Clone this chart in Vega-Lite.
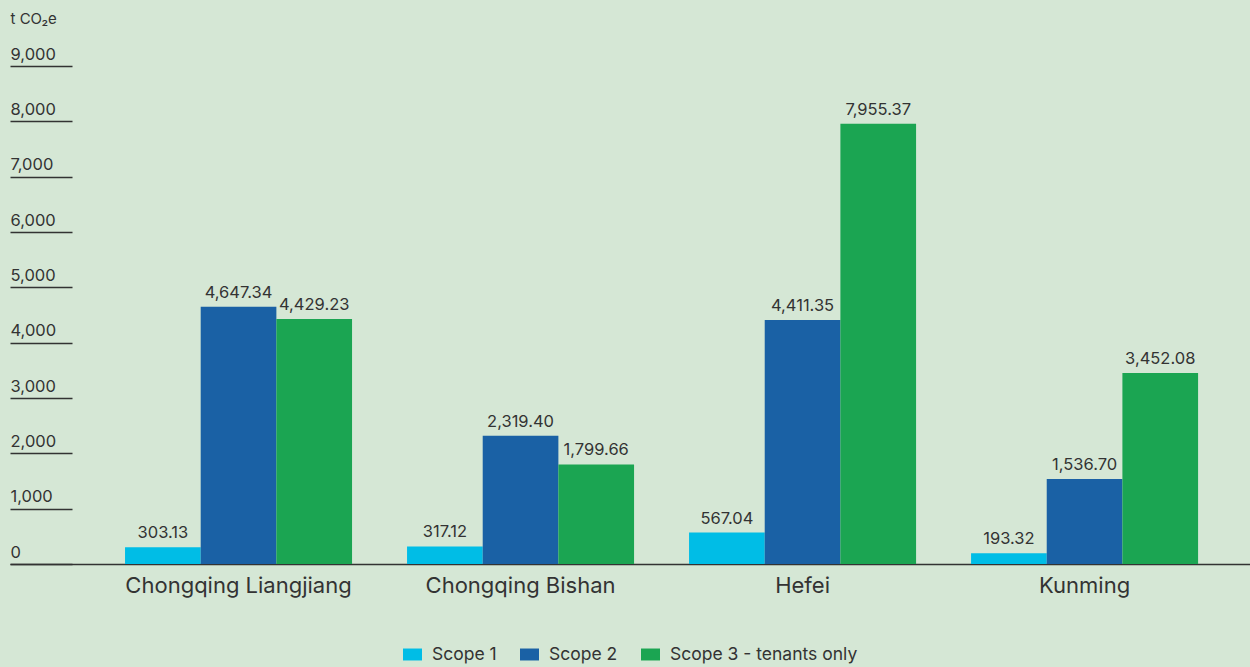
{
  "$schema": "https://vega.github.io/schema/vega-lite/v6.json",
  "width": 1240,
  "height": 498,
  "autosize": {"type": "none"},
  "padding": {"left": 10, "top": 66, "right": 0, "bottom": 103},
  "background": "#d5e7d5",
  "config": {"view": {"stroke": null}, "font": "Inter"},
  "data": {
    "values": [
      {"site": "Chongqing Liangjiang", "scope": "Scope 1", "value": 303.13},
      {"site": "Chongqing Liangjiang", "scope": "Scope 2", "value": 4647.34},
      {"site": "Chongqing Liangjiang", "scope": "Scope 3 - tenants only", "value": 4429.23},
      {"site": "Chongqing Bishan", "scope": "Scope 1", "value": 317.12},
      {"site": "Chongqing Bishan", "scope": "Scope 2", "value": 2319.40},
      {"site": "Chongqing Bishan", "scope": "Scope 3 - tenants only", "value": 1799.66},
      {"site": "Hefei", "scope": "Scope 1", "value": 567.04},
      {"site": "Hefei", "scope": "Scope 2", "value": 4411.35},
      {"site": "Hefei", "scope": "Scope 3 - tenants only", "value": 7955.37},
      {"site": "Kunming", "scope": "Scope 1", "value": 193.32},
      {"site": "Kunming", "scope": "Scope 2", "value": 1536.70},
      {"site": "Kunming", "scope": "Scope 3 - tenants only", "value": 3452.08}
    ]
  },
  "encoding": {
    "x": {
      "field": "site",
      "type": "nominal",
      "sort": ["Chongqing Liangjiang", "Chongqing Bishan", "Hefei", "Kunming"],
      "scale": {"paddingInner": 0.195, "paddingOuter": 0.296, "align": 0.689},
      "axis": {
        "title": null,
        "labelAngle": 0,
        "labelFontSize": 22,
        "labelColor": "#333333",
        "labelPadding": 11,
        "labelBaseline": "top",
        "labelLimit": 0,
        "ticks": false,
        "domain": true,
        "domainColor": "#333333",
        "domainWidth": 1.5
      }
    },
    "xOffset": {
      "field": "scope",
      "type": "nominal",
      "sort": ["Scope 1", "Scope 2", "Scope 3 - tenants only"],
      "scale": {"paddingInner": 0, "paddingOuter": 0}
    },
    "y": {
      "field": "value",
      "type": "quantitative",
      "scale": {"domain": [0, 9000], "nice": false},
      "axis": {
        "title": "t CO₂e",
        "titleAngle": 0,
        "titleX": 0,
        "titleY": -43,
        "titleAlign": "left",
        "titleBaseline": "alphabetic",
        "titleFontSize": 15,
        "titleFontWeight": "normal",
        "titleColor": "#333333",
        "values": [0, 1000, 2000, 3000, 4000, 5000, 6000, 7000, 8000, 9000],
        "format": ",.0f",
        "domain": false,
        "grid": false,
        "ticks": true,
        "tickSize": -62,
        "tickColor": "#333333",
        "tickWidth": 1.3,
        "labelAlign": "left",
        "labelBaseline": "alphabetic",
        "labelOffset": -7,
        "labelPadding": 62,
        "labelFontSize": 16.5,
        "labelColor": "#333333"
      }
    }
  },
  "layer": [
    {
      "mark": {"type": "bar"},
      "encoding": {
        "color": {
          "field": "scope",
          "type": "nominal",
          "sort": ["Scope 1", "Scope 2", "Scope 3 - tenants only"],
          "scale": {
            "domain": ["Scope 1", "Scope 2", "Scope 3 - tenants only"],
            "range": ["#00bde6", "#1a61a5", "#1ba552"]
          },
          "legend": {
            "title": null,
            "orient": "none",
            "legendX": 393,
            "legendY": 579,
            "direction": "horizontal",
            "symbolType": "M-1,-0.63H1V0.63H-1Z",
            "symbolSize": 361,
            "symbolStrokeWidth": 0,
            "symbolOpacity": 1,
            "labelFontSize": 17.5,
            "labelLimit": 0,
            "labelColor": "#333333",
            "labelOffset": 10,
            "columnPadding": 23
          }
        }
      }
    },
    {
      "mark": {"type": "text", "dy": -9, "baseline": "alphabetic", "fontSize": 16.5, "color": "#333333"},
      "encoding": {
        "text": {"field": "value", "type": "quantitative", "format": ",.2f"}
      }
    }
  ]
}
